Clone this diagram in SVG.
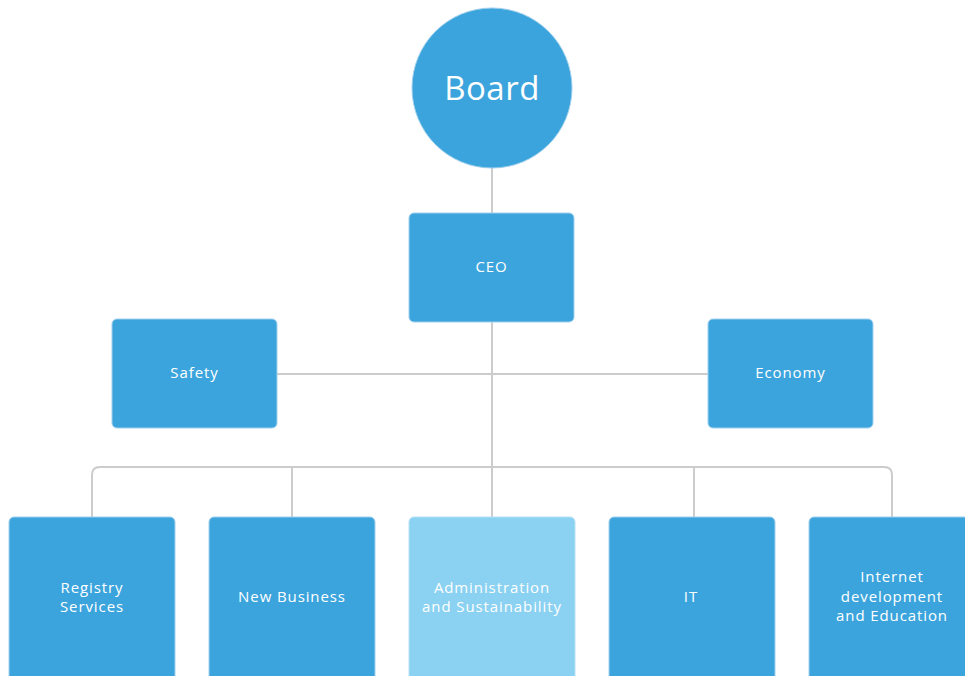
<svg xmlns="http://www.w3.org/2000/svg" width="965" height="676" viewBox="0 0 965 676">
<style>
.box{fill:#3ca4dc;stroke:#9fd0ee;stroke-width:1}
.light{fill:#8bd1f1;stroke:#b5e1f6;stroke-width:1}
.lbl{font-family:"Open Sans","Liberation Sans",sans-serif;font-size:15px;letter-spacing:0.9px;fill:#ffffff;text-anchor:middle;dominant-baseline:central}
.big{font-size:33px;letter-spacing:0.5px}
.conn{fill:none;stroke:#cccccc;stroke-width:2}
</style>
<rect width="965" height="676" fill="#ffffff"/>
<g id="connectors">
<line class="conn" x1="492" y1="168" x2="492" y2="213"/>
<line class="conn" x1="492" y1="322" x2="492" y2="517"/>
<line class="conn" x1="277" y1="374" x2="708" y2="374"/>
<path class="conn" d="M92,517 V475 Q92,467 100,467 H884 Q892,467 892,475 V517"/>
<line class="conn" x1="292" y1="467" x2="292" y2="517"/>
<line class="conn" x1="694" y1="467" x2="694" y2="517"/>
</g>
<g id="board">
<circle cx="492" cy="88" r="80" fill="#3ca4dc" stroke="#9fd0ee" stroke-width="1"/>
<text class="lbl big" x="492" y="87">Board</text>
</g>
<g id="ceo">
<rect class="box" x="409" y="213" width="165" height="109" rx="5"/>
<text class="lbl" x="491.5" y="266">CEO</text>
</g>
<g id="safety">
<rect class="box" x="112" y="319" width="165" height="109" rx="5"/>
<text class="lbl" x="194.5" y="372">Safety</text>
</g>
<g id="economy">
<rect class="box" x="708" y="319" width="165" height="109" rx="5"/>
<text class="lbl" x="790.5" y="372">Economy</text>
</g>
<g id="registry">
<rect class="box" x="9" y="517" width="166" height="180" rx="5"/>
<text class="lbl" x="92" y="587">Registry</text>
<text class="lbl" x="92" y="606">Services</text>
</g>
<g id="newbusiness">
<rect class="box" x="209" y="517" width="166" height="180" rx="5"/>
<text class="lbl" x="292" y="596">New Business</text>
</g>
<g id="admin">
<rect class="light" x="409" y="517" width="166" height="180" rx="5"/>
<text class="lbl" x="492" y="587">Administration</text>
<text class="lbl" x="492" y="606">and Sustainability</text>
</g>
<g id="it">
<rect class="box" x="609" y="517" width="166" height="180" rx="5"/>
<text class="lbl" x="691" y="596">IT</text>
</g>
<g id="internet">
<rect class="box" x="809" y="517" width="166" height="180" rx="5"/>
<text class="lbl" x="892" y="576">Internet</text>
<text class="lbl" x="892" y="596">development</text>
<text class="lbl" x="892" y="615">and Education</text>
</g>
</svg>
